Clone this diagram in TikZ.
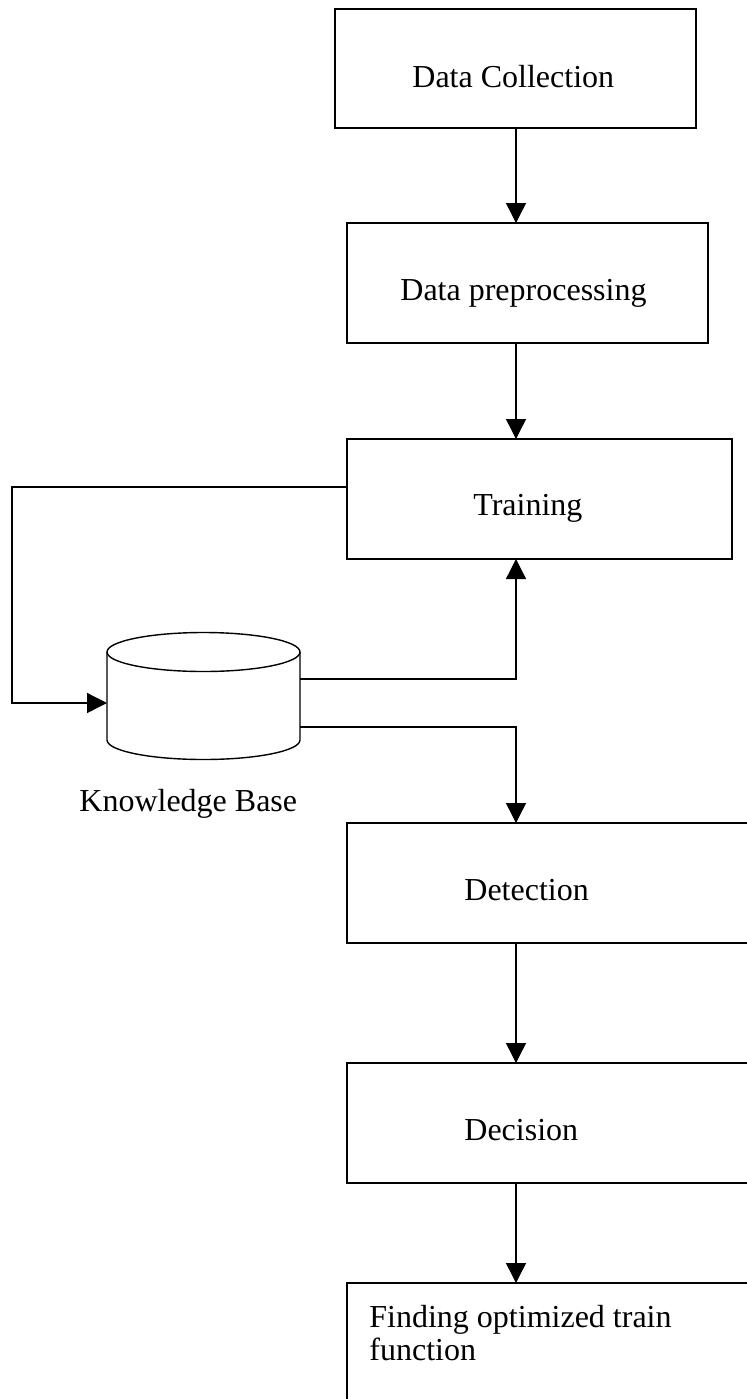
\documentclass[tikz,border=0pt]{standalone}
\usepackage{fontspec}
\setmainfont{Liberation Serif}
\usetikzlibrary{arrows.meta}
\begin{document}
\begin{tikzpicture}[x=0.5pt,y=-0.5pt,
  ln/.style={line width=0.7pt},
  box/.style={draw, ln, rectangle, anchor=north west, inner sep=0pt, outer sep=0pt},
  txt/.style={font=\fontsize{16}{16.5}\selectfont, anchor=base west, inner sep=0pt, align=left},
  arr/.style={ln, -{Triangle[width=10pt,length=10pt]}}]
\useasboundingbox (0,0) rectangle (747,1399);
\clip (0,0) rectangle (747,1399);
\fill[white] (0,0) rectangle (747,1399);

% boxes
\node[box, minimum width=180.5pt, minimum height=59.5pt] (dc) at (335,9) {};
\node[box, minimum width=180.5pt, minimum height=60pt] (dp) at (347,223) {};
\node[box, minimum width=192.5pt, minimum height=60pt] (tr) at (347,439) {};
\node[box, minimum width=211.5pt, minimum height=60pt] (de) at (347,823) {};
\node[box, minimum width=211.5pt, minimum height=60pt] (dn) at (347,1063) {};
\node[box, minimum width=211.5pt, minimum height=68.5pt] (fo) at (347,1283) {};

% texts
\node[txt] (tdc) at (412,87) {Data Collection};
\node[txt] (tdp) at (400,300) {Data preprocessing};
\node[txt] (ttr) at (473,515) {Training};
\node[txt] (tde) at (464,900) {Detection};
\node[txt] (tdn) at (464,1140) {Decision};
\node[txt] (tfo) at (369,1360) {Finding optimized train\\function};
\node[txt] (tkb) at (79,811) {Knowledge Base};

% knowledge base cylinder
\node[inner sep=0pt, outer sep=0pt, minimum width=96.5pt, minimum height=63.5pt] (kb) at (203.5,695.5) {};
\draw[ln] (203.5,652) ellipse [x radius=48.25pt, y radius=9.75pt];
\draw[ln] (107,652) -- (107,740) arc[start angle=180, end angle=360, x radius=48.25pt, y radius=9.75pt] -- (300,652);

% helper coordinates
\coordinate (axis) at (516,0);
\coordinate (loopx) at (12,0);
\coordinate (kbin) at (107,703);
\coordinate (kbo1) at (300,679);
\coordinate (kbo2) at (300,727);
\coordinate (trl) at (347,487);

% connectors
\draw[arr] (axis |- dc.south) -- (axis |- dp.north);
\draw[arr] (axis |- dp.south) -- (axis |- tr.north);
\draw[arr] (trl) -| (loopx |- kbin) -- (kbin);
\draw[arr] (kbo1) -| (axis |- tr.south);
\draw[arr] (kbo2) -| (axis |- de.north);
\draw[arr] (axis |- de.south) -- (axis |- dn.north);
\draw[arr] (axis |- dn.south) -- (axis |- fo.north);
\end{tikzpicture}
\end{document}
